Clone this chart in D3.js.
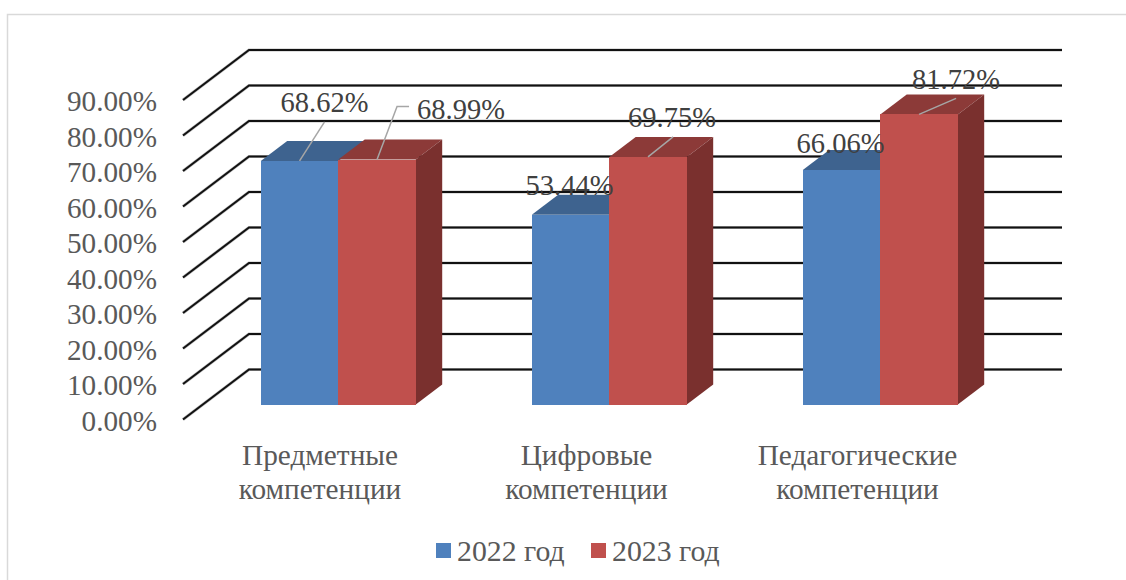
<!DOCTYPE html>
<html>
<head>
<meta charset="utf-8">
<script src="https://cdn.jsdelivr.net/npm/d3@7"></script>
<style>
  html, body { margin: 0; padding: 0; background: #fff; }
  svg { display: block; }
  text { font-family: "Liberation Serif", serif; }
</style>
</head>
<body>
<svg id="chart" width="1126" height="580"></svg>
<script>
const categories = [['Предметные', 'компетенции'], ['Цифровые', 'компетенции'], ['Педагогические', 'компетенции']];
const seriesNames = ['2022 год', '2023 год'];
const values2022 = [68.62, 53.44, 66.06];
const values2023 = [68.99, 69.75, 81.72];
const tickValues = [0, 10, 20, 30, 40, 50, 60, 70, 80, 90];

const colors = {
  '2022 год': {front: '#4f81bd', top: '#3e638f'},
  '2023 год': {front: '#c0504d', top: '#8c3a38', side: '#7a302e'}
};

const svg = d3.select('#chart');
const width = +svg.attr('width');
const height = +svg.attr('height');

// chart frame, only top and left edges are in the crop
svg.append('path')
    .attr('d', `M7.5,${height} V14.5 H${width}`)
    .attr('fill', 'none')
    .attr('stroke', '#d9d9d9')
    .attr('stroke-width', 1.5);

// floor front edge, the 3d wall is this shifted by depth
const floorX = 183, floorY = 419.5, plotRight = 996;
const depth = {x: 66, y: -50};
const barInset = 0.3;   // how far into the floor the bars stand
const barDepth = 0.4;

const x = d3.scaleBand()
    .domain(d3.range(categories.length))
    .range([floorX, plotRight])
    .paddingInner(0.428)
    .paddingOuter(0.214);
const xSub = d3.scaleBand()
    .domain(seriesNames)
    .range([0, x.bandwidth()]);
const y = d3.scaleLinear()
    .domain([0, 90])
    .range([0, -319.5]);

// grid lines on floor side and back wall, soft grey under a black line
const gridPath = d => {
  const yy = floorY + y(d);
  return `M${floorX},${yy} L${floorX + depth.x},${yy + depth.y} H${plotRight + depth.x}`;
};
[['#bfbfbf', 3.2], ['#111', 2]].forEach(([stroke, sw]) => {
  svg.append('g').attr('fill', 'none').attr('stroke', stroke).attr('stroke-width', sw)
      .selectAll('path')
      .data(tickValues)
      .enter().append('path')
      .attr('d', gridPath);
});

// y axis labels
svg.append('g')
    .attr('font-size', 29.2).attr('fill', '#595959').attr('text-anchor', 'end')
    .selectAll('text')
    .data(tickValues)
    .enter().append('text')
    .attr('x', 157)
    .attr('y', d => floorY + y(d) + 11)
    .text(d => d.toFixed(2) + '%');

// bars
const dx = depth.x * barDepth, dy = depth.y * barDepth;
const bx = depth.x * barInset, by = floorY + depth.y * barInset;
const seriesValues = [values2022, values2023];

function drawBars(name, values) {
  const c = colors[name];
  const bars = svg.append('g').selectAll('g')
      .data(values)
      .enter().append('g')
      .attr('transform', (d, i) => `translate(${x(i) + xSub(name) + bx},${by})`);
  const w = xSub.bandwidth();
  bars.append('path')
      .attr('fill', c.top)
      .attr('d', d => `M0,${y(d)} l${dx},${dy} h${w} l${-dx},${-dy} z`);
  if (c.side) {
    bars.append('path')
        .attr('fill', c.side)
        .attr('d', d => `M${w},${y(d)} l${dx},${dy} V${dy} l${-dx},${-dy} z`);
  }
  bars.append('rect')
      .attr('x', 0)
      .attr('y', d => y(d))
      .attr('width', w)
      .attr('height', d => -y(d))
      .attr('shape-rendering', 'crispEdges')
      .attr('fill', c.front);
}
seriesNames.forEach((name, s) => drawBars(name, seriesValues[s]));

// data labels were moved by hand in the original, so they get offsets from the bar top centre
const labelLayout = [
  [{lx: 25, ly: -58, leader: [[25, -39]]}, {lx: 84, ly: -50, leader: [[20, -53], [32, -53]]}],
  [{lx: -1, ly: -29}, {lx: 24, ly: -39, leader: [[25, -20]]}],
  [{lx: -1, ly: -26}, {lx: 37, ly: -35, leader: [[37, -16]]}]
];
const labels = svg.append('g');
seriesNames.forEach((name, s) => {
  seriesValues[s].forEach((v, i) => {
    const cx = x(i) + xSub(name) + bx + xSub.bandwidth() / 2;
    const cy = by + y(v);
    const l = labelLayout[i][s];
    if (l.leader) {
      labels.append('path')
          .attr('d', d3.line()([[cx, cy]].concat(l.leader.map(p => [cx + p[0], cy + p[1]]))))
          .attr('fill', 'none')
          .attr('stroke', '#a6a6a6')
          .attr('stroke-width', 1.5);
    }
    labels.append('text')
        .attr('x', cx + l.lx)
        .attr('y', cy + l.ly)
        .attr('dy', '0.33em')
        .attr('text-anchor', 'middle')
        .attr('font-size', 28.5)
        .attr('fill', '#404040')
        .text(v.toFixed(2) + '%');
  });
});

// category labels
const catShift = [1.5, -3, -3];
const catLabels = svg.append('g')
    .attr('font-size', 29.3).attr('fill', '#595959').attr('text-anchor', 'middle')
    .selectAll('text')
    .data(categories)
    .enter().append('text')
    .attr('transform', (d, i) => `translate(${x(i) + x.bandwidth() / 2 + catShift[i]},465)`);
catLabels.selectAll('tspan')
    .data(d => d)
    .enter().append('tspan')
    .attr('x', 0)
    .attr('y', (d, i) => i * 34)
    .text(d => d);

// legend
const legend = svg.append('g').selectAll('g')
    .data(seriesNames)
    .enter().append('g')
    .attr('transform', (d, i) => `translate(${436 + i * 155},543)`);
legend.append('rect')
    .attr('width', 15).attr('height', 15)
    .attr('fill', d => colors[d].front);
legend.append('text')
    .attr('x', 21).attr('y', 18)
    .attr('font-size', 29.8).attr('fill', '#595959')
    .text(d => d);
</script>
</body>
</html>
